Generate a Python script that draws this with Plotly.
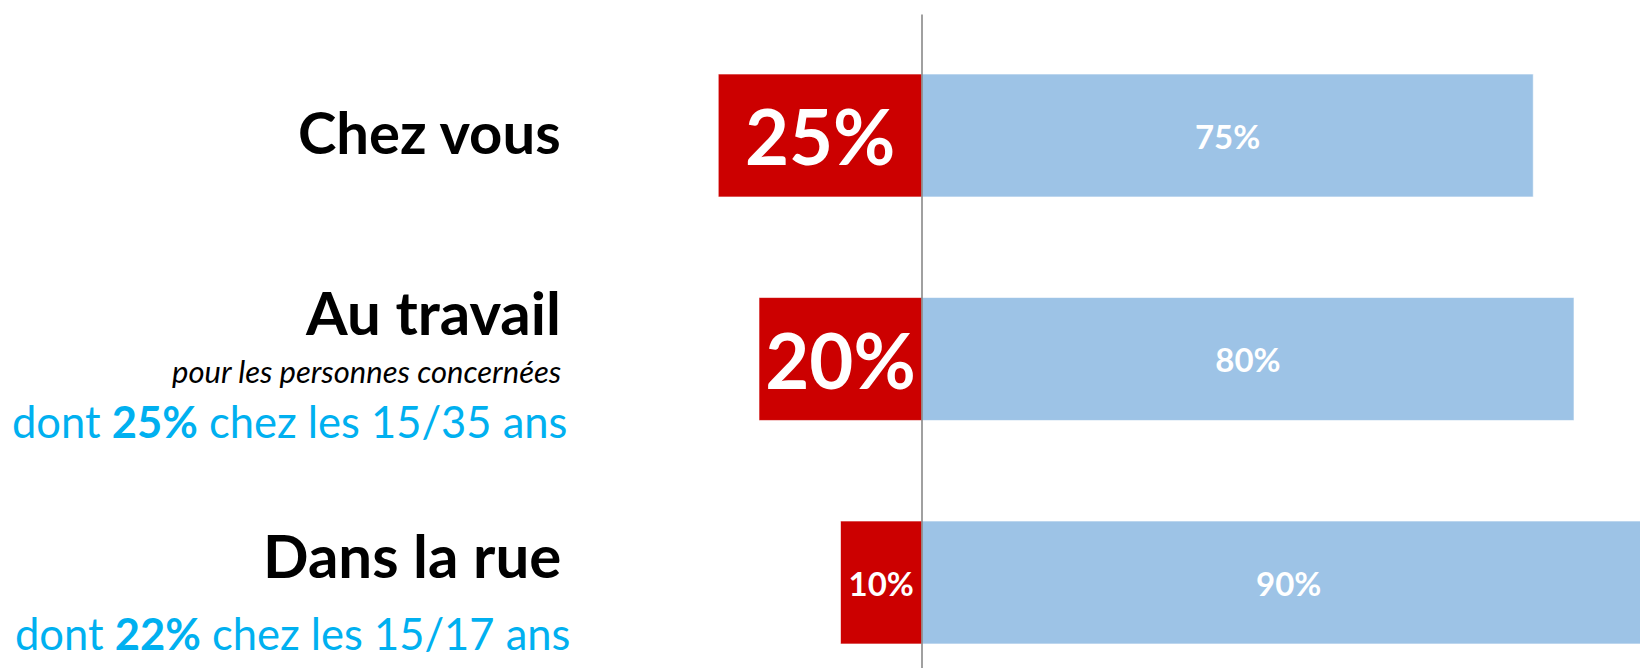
import plotly.graph_objects as go

categories = ["Chez vous", "Au travail", "Dans la rue"]
oui_values = [25, 20, 10]
non_values = [75, 80, 90]
red_label_sizes = [76, 76, 33]

RED = "#CC0000"
BLUE = "#9DC3E6"
CYAN = "#00B0F0"
FONT = "Lato"

fig = go.Figure()
fig.add_trace(go.Bar(
    y=categories, x=[-v for v in oui_values], orientation="h",
    marker=dict(color=RED, line=dict(color="rgba(255,255,255,0.6)", width=1)),
    text=[f"{v}%" for v in oui_values], textposition="inside",
    insidetextanchor="middle",
    textfont=dict(family=FONT, color="white", size=red_label_sizes, weight="bold"),
    width=0.55, hoverinfo="skip",
))
fig.add_trace(go.Bar(
    y=categories, x=non_values, orientation="h",
    marker=dict(color=BLUE, line=dict(color="rgba(255,255,255,0.6)", width=1)),
    text=[f"{v}%" for v in non_values], textposition="inside",
    insidetextanchor="middle",
    textfont=dict(family=FONT, color="white", size=33, weight="bold"),
    width=0.55, hoverinfo="skip",
))

W, H = 1640, 668
zero_px = 922
px_per = 8.15
x_range = [-zero_px / px_per, (W - zero_px) / px_per]
cat_px = [135.5, 359.0, 582.5]
step = cat_px[1] - cat_px[0]
y_range = [2 + (H - cat_px[2]) / step, -cat_px[0] / step]

fig.update_layout(
    width=W, height=H, margin=dict(l=0, r=0, t=0, b=0),
    paper_bgcolor="white", plot_bgcolor="white",
    barmode="relative", showlegend=False,
    xaxis=dict(range=x_range, visible=False, fixedrange=True),
    yaxis=dict(range=y_range, visible=False, categoryorder="array",
               categoryarray=categories, fixedrange=True),
    font=dict(family=FONT),
)

fig.add_shape(type="line", xref="x", yref="paper", x0=0, x1=0,
              y0=0, y1=1 - 14.6 / H, line=dict(color="#808080", width=1.5),
              layer="above")

label_x = 563 / W
main_labels = [("Chez vous", 0, 4, 58), ("Au travail", 1, 47, 60), ("Dans la rue", 2, 28, 60)]
for txt, yi, ys, fs in main_labels:
    fig.add_annotation(x=label_x, xref="paper", y=categories[yi], yref="y",
                       yshift=ys, text=f"<b>{txt}</b>", showarrow=False,
                       xanchor="right", yanchor="middle",
                       font=dict(family=FONT, size=fs, color="black"))

fig.add_annotation(x=label_x, xref="paper", y=categories[1], yref="y", yshift=-12,
                   text="<i>pour les personnes concernées</i>", showarrow=False,
                   xanchor="right", yanchor="middle",
                   font=dict(family=FONT, size=31, color="black"))
fig.add_annotation(x=569 / W, xref="paper", y=categories[1], yref="y", yshift=-62,
                   text="dont <b>25%</b> chez les 15/35 ans", showarrow=False,
                   xanchor="right", yanchor="middle",
                   font=dict(family=FONT, size=43.5, color=CYAN))
fig.add_annotation(x=572 / W, xref="paper", y=categories[2], yref="y", yshift=-50,
                   text="dont <b>22%</b> chez les 15/17 ans", showarrow=False,
                   xanchor="right", yanchor="middle",
                   font=dict(family=FONT, size=43.5, color=CYAN))

fig.write_html(
    "out.html",
    config={"displayModeBar": False},
    post_script="document.body.style.margin='0';document.body.style.overflow='hidden';",
)
